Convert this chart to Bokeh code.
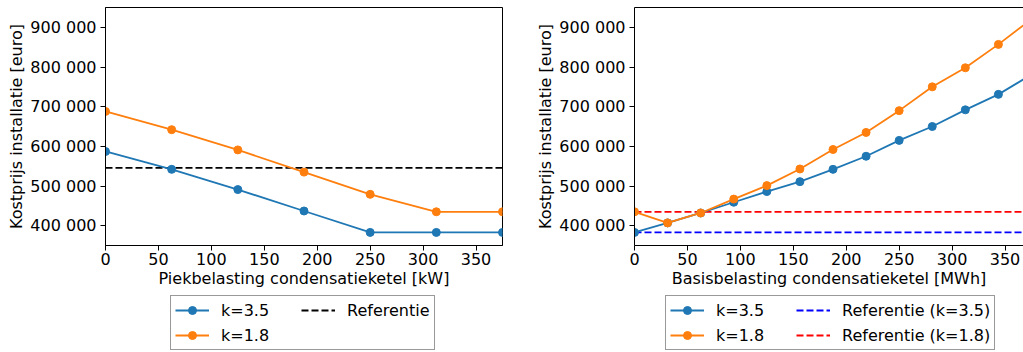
from bokeh.plotting import figure
from bokeh.models import (Range1d, FixedTicker, Legend, LegendItem, LinearAxis,
                          ColumnDataSource)
from bokeh.layouts import row, column
from bokeh.embed import file_html
from bokeh.resources import INLINE

# ---- data ----
piek_kw = [0, 62.5, 125, 187.5, 250, 312.5, 375]
piek_k35 = [587000, 542000, 491000, 437000, 383000, 383000, 383000]
piek_k18 = [688000, 642000, 591000, 535000, 479000, 435000, 435000]
piek_ref = 545500

basis_mwh = [0, 31.25, 62.5, 93.75, 125, 156.25, 187.5, 218.75, 250,
             281.25, 312.5, 343.75, 375]
basis_k35 = [383000, 407000, 432000, 459000, 486000, 511000, 542000, 575000,
             615000, 650000, 692000, 731000, 781000]
basis_k18 = [435000, 407000, 432000, 467000, 501000, 543000, 592000, 635000,
             690000, 750000, 798000, 857000, 921000]
basis_ref_k35 = 383000
basis_ref_k18 = 435000

x_ticks = [0, 50, 100, 150, 200, 250, 300, 350]
y_ticks = [400000, 500000, 600000, 700000, 800000, 900000]
y_tick_labels = {v: f"{v // 1000} 000" for v in y_ticks}

BLUE = "#1f77b4"
ORANGE = "#ff7f0e"
FONT = "DejaVu Sans"
FS = "16px"
PX_PER_UNIT = 397 / 375.0
FRAME_H = 238
LW = 1.8
DASH = "7 3"


def style(p, xlabel):
    p.xaxis.axis_label = xlabel
    p.yaxis.axis_label = "Kostprijs installatie [euro]"
    for ax in (p.xaxis[0], p.yaxis[0]):
        ax.axis_label_text_font = FONT
        ax.axis_label_text_font_size = FS
        ax.axis_label_text_font_style = "normal"
        ax.axis_label_text_color = "black"
        ax.major_label_text_font = FONT
        ax.major_label_text_font_size = FS
        ax.major_label_text_color = "black"
        ax.axis_line_color = "black"
        ax.major_tick_line_color = "black"
        ax.major_tick_out = 5
        ax.major_tick_in = 0
        ax.minor_tick_line_color = None
    p.xaxis.major_label_standoff = 2
    p.xaxis.axis_label_standoff = 1
    p.yaxis.major_label_standoff = 4
    p.yaxis.axis_label_standoff = 1
    p.xaxis.ticker = FixedTicker(ticks=x_ticks)
    p.yaxis.ticker = FixedTicker(ticks=y_ticks)
    p.yaxis.major_label_overrides = y_tick_labels
    p.xgrid.grid_line_color = None
    p.ygrid.grid_line_color = None


def legend_fig(width, entries, loc):
    # legend-only strip; its frame is aligned with the plot frame above it.
    # The proxy renderers hold the series but lie far outside this strip's
    # (0..1) ranges, so only their legend glyphs show.
    f = figure(width=width, height=57, x_range=Range1d(0, 1), y_range=Range1d(0, 1),
               output_backend="svg", toolbar_location=None,
               min_border=0, outline_line_color=None)
    f.axis.visible = False
    f.grid.visible = False
    items = []
    for label, xs, ys, color, dash, marker in entries:
        src = ColumnDataSource(dict(x=xs, y=ys))
        rs = [f.line("x", "y", source=src, color=color,
                     line_width=LW, line_dash=dash)]
        if marker:
            rs.append(f.scatter("x", "y", source=src, color=color, size=8))
        items.append(LegendItem(label=label, renderers=rs))
    lg = Legend(items=items, location=loc, orientation="vertical", nrows=2,
                label_text_font=FONT, label_text_font_size=FS,
                label_text_color="black",
                glyph_width=34, glyph_height=20, label_height=20,
                label_width=75, label_standoff=12, spacing=5, padding=4,
                margin=0, border_line_color="#333333", border_line_width=1,
                background_fill_color="white", background_fill_alpha=1)
    f.add_layout(lg, "center")
    return f


# ---- left figure ----
p1 = figure(frame_width=397, frame_height=FRAME_H,
            x_range=Range1d(0, 375), y_range=Range1d(350000, 950000),
            output_backend="svg", toolbar_location=None,
            min_border_left=105, min_border_right=18, min_border_top=7,
            min_border_bottom=50)
style(p1, "Piekbelasting condensatieketel [kW]")
p1.outline_line_color = "black"
p1.outline_line_width = 1

ref_x = [piek_kw[0], piek_kw[-1]]
p1.line(ref_x, [piek_ref, piek_ref], color="black", line_width=LW, line_dash=DASH)
p1.line(piek_kw, piek_k35, color=BLUE, line_width=LW)
p1.scatter(piek_kw, piek_k35, color=BLUE, size=8)
p1.line(piek_kw, piek_k18, color=ORANGE, line_width=LW)
p1.scatter(piek_kw, piek_k18, color=ORANGE, size=8)

leg1 = legend_fig(520, [
    ("k=3.5", piek_kw, piek_k35, BLUE, "solid", True),
    ("k=1.8", piek_kw, piek_k18, ORANGE, "solid", True),
    ("Referentie", ref_x, [piek_ref, piek_ref], "black", DASH, False),
], (65, 2))

# ---- right figure (cut by the window on its right) ----
right_frame = 389
p2 = figure(frame_width=right_frame, frame_height=FRAME_H,
            x_range=Range1d(0, right_frame / PX_PER_UNIT),
            y_range=Range1d(350000, 950000),
            output_backend="svg", toolbar_location=None,
            min_border_left=114, min_border_right=0, min_border_top=7,
            min_border_bottom=50)
style(p2, "Basisbelasting condensatieketel [MWh]")
p2.outline_line_color = None
top_axis = LinearAxis(ticker=FixedTicker(ticks=[]), major_label_text_font_size="0px",
                      axis_line_color="black", major_tick_line_color=None,
                      minor_tick_line_color=None)
p2.add_layout(top_axis, "above")

bx = [basis_mwh[0], basis_mwh[-1]]
p2.line(bx, [basis_ref_k35] * 2, color="#0000ff", line_width=LW, line_dash=DASH)
p2.line(bx, [basis_ref_k18] * 2, color="#ff0000", line_width=LW, line_dash=DASH)
p2.line(basis_mwh, basis_k35, color=BLUE, line_width=LW)
p2.scatter(basis_mwh, basis_k35, color=BLUE, size=8)
p2.line(basis_mwh, basis_k18, color=ORANGE, line_width=LW)
p2.scatter(basis_mwh, basis_k18, color=ORANGE, size=8)

leg2 = legend_fig(503, [
    ("k=3.5", basis_mwh, basis_k35, BLUE, "solid", True),
    ("k=1.8", basis_mwh, basis_k18, ORANGE, "solid", True),
    ("Referentie (k=3.5)", bx, [basis_ref_k35] * 2, "#0000ff", DASH, False),
    ("Referentie (k=1.8)", bx, [basis_ref_k18] * 2, "#ff0000", DASH, False),
], (31, 2))

layout = row(column(p1, leg1, spacing=0), column(p2, leg2, spacing=0), spacing=0)
open("out.html", "w").write(file_html(layout, INLINE))
